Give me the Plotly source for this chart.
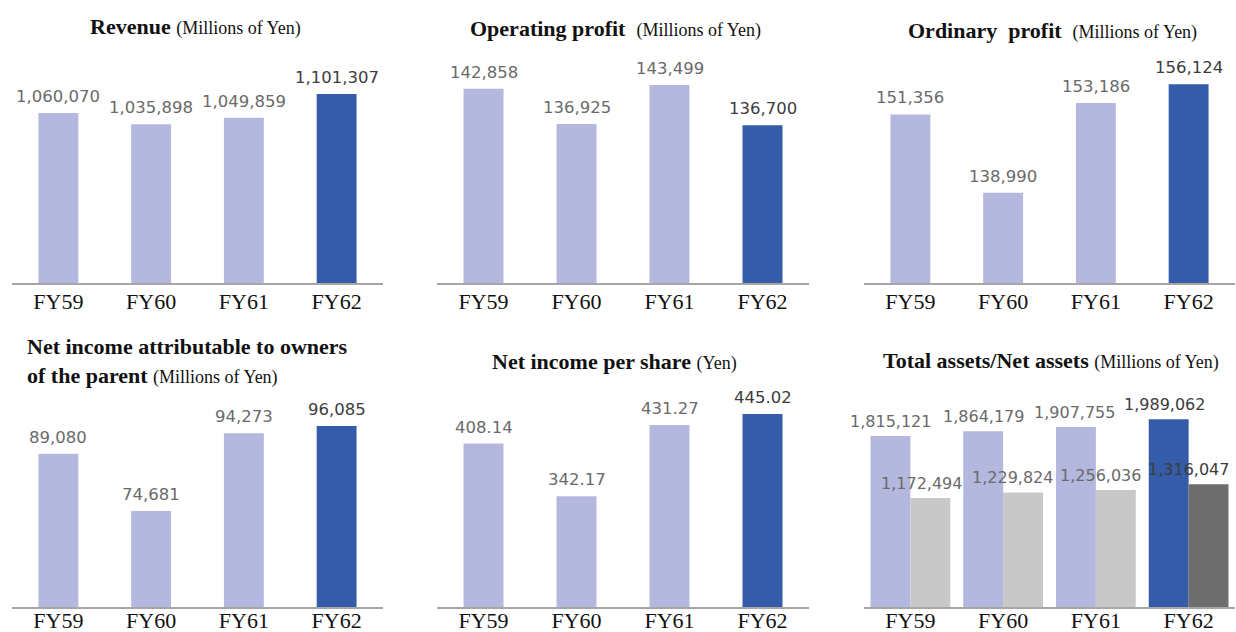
import plotly.graph_objects as go

W, H = 1236, 632

categories = ["FY59", "FY60", "FY61", "FY62"]

revenue = [1060070, 1035898, 1049859, 1101307]
operating_profit = [142858, 136925, 143499, 136700]
ordinary_profit = [151356, 138990, 153186, 156124]
net_income = [89080, 74681, 94273, 96085]
eps = [408.14, 342.17, 431.27, 445.02]
total_assets = [1815121, 1864179, 1907755, 1989062]
net_assets = [1172494, 1229824, 1256036, 1316047]

revenue_labels = ["1,060,070", "1,035,898", "1,049,859", "1,101,307"]
operating_labels = ["142,858", "136,925", "143,499", "136,700"]
ordinary_labels = ["151,356", "138,990", "153,186", "156,124"]
net_income_labels = ["89,080", "74,681", "94,273", "96,085"]
eps_labels = ["408.14", "342.17", "431.27", "445.02"]
total_labels = ["1,815,121", "1,864,179", "1,907,755", "1,989,062"]
net_assets_labels = ["1,172,494", "1,229,824", "1,256,036", "1,316,047"]

LIGHT = "#b4b8de"
DARK = "#345ca8"
GRAY_L = "#c8c8c8"
GRAY_D = "#6e6e6e"
LBL_L = "#6a6a6a"
LBL_D = "#3c3c3c"
SERIF = "Liberation Serif, Times New Roman, serif"
SANS = "DejaVu Sans, Verdana, sans-serif"

def px_x(a, b):
    return [a / W, b / W]

def px_y(top, bottom):
    return [1 - bottom / H, 1 - top / H]

# panel layout: (x px range, y px range, y value range)
panels = [
    dict(x=(12, 383), y=(60, 283), rng=[691270, 1175000], stand=-2),
    dict(x=(437, 809), y=(60, 283), rng=[110126, 147712], stand=-2),
    dict(x=(864, 1235), y=(60, 283), rng=[124714, 159966], stand=-2),
    dict(x=(12, 383), y=(390, 607), rng=[50505, 105151], stand=-7),
    dict(x=(437, 809), y=(390, 607), rng=[204.1, 474.9], stand=-7),
    dict(x=(864, 1235), y=(390, 607), rng=[42733, 2291900], stand=-7),
]

fig = go.Figure()
single = [
    (revenue, revenue_labels),
    (operating_profit, operating_labels),
    (ordinary_profit, ordinary_labels),
    (net_income, net_income_labels),
    (eps, eps_labels),
]
bar_colors = [LIGHT, LIGHT, LIGHT, DARK]
label_colors = [LBL_L, LBL_L, LBL_L, LBL_D]
annotations = []

for i, p in enumerate(panels):
    n = "" if i == 0 else str(i + 1)
    fig.update_layout(**{
        "xaxis" + n: dict(domain=px_x(*p["x"]), anchor="y" + n, type="category",
                          range=[-0.5, 3.5], automargin=False,
                          ticklabelstandoff=p["stand"],
                          showline=True, linecolor="#a6a6a6", linewidth=2,
                          showgrid=False, ticks="", zeroline=False,
                          tickfont=dict(family=SERIF, size=22, color="#111111"),
                          fixedrange=True),
        "yaxis" + n: dict(domain=px_y(*p["y"]), anchor="x" + n, range=p["rng"],
                          visible=False, showgrid=False, zeroline=False,
                          automargin=False, fixedrange=True),
    })

for i, (vals, labs) in enumerate(single):
    n = "" if i == 0 else str(i + 1)
    fig.add_trace(go.Bar(x=categories, y=vals, width=0.43,
                         marker=dict(color=bar_colors, line=dict(width=0)),
                         xaxis="x" + n, yaxis="y" + n, showlegend=False,
                         hoverinfo="skip"))
    for c, v, t, col in zip(categories, vals, labs, label_colors):
        annotations.append(dict(x=c, y=v, xref="x" + n, yref="y" + n, text=t,
                                showarrow=False, yanchor="bottom", yshift=5,
                                font=dict(family=SANS, size=16.5, color=col)))

# panel 6: grouped bars
fig.add_trace(go.Bar(x=categories, y=total_assets, width=0.43, offset=-0.43,
                     marker=dict(color=[LIGHT, LIGHT, LIGHT, DARK], line=dict(width=0)),
                     xaxis="x6", yaxis="y6", showlegend=False, hoverinfo="skip"))
fig.add_trace(go.Bar(x=categories, y=net_assets, width=0.43, offset=0.0,
                     marker=dict(color=[GRAY_L, GRAY_L, GRAY_L, GRAY_D], line=dict(width=0)),
                     xaxis="x6", yaxis="y6", showlegend=False, hoverinfo="skip"))
total_shift = [-20, -20, -21, -24]
net_shift = [11, 9, 5, 0]
for k, (c, v, t) in enumerate(zip(categories, total_assets, total_labels)):
    annotations.append(dict(x=c, y=v, xref="x6", yref="y6", text=t, showarrow=False,
                            yanchor="bottom", yshift=3, xshift=total_shift[k],
                            font=dict(family=SANS, size=16, color=label_colors[k])))
for k, (c, v, t) in enumerate(zip(categories, net_assets, net_assets_labels)):
    annotations.append(dict(x=c, y=v, xref="x6", yref="y6", text=t, showarrow=False,
                            yanchor="bottom", yshift=3, xshift=net_shift[k],
                            font=dict(family=SANS, size=16, color=label_colors[k])))

SUB = "<span style='font-size:18px;font-weight:normal'>%s</span>"
titles = [
    ("<b>Revenue</b> " + SUB % "(Millions of Yen)", 195, 26, "center"),
    ("<b>Operating profit</b>  " + SUB % "(Millions of Yen)", 615, 28, "center"),
    ("<b>Ordinary  profit</b>  " + SUB % "(Millions of Yen)", 1052, 30, "center"),
    ("<b>Net income attributable to owners</b><br><b>of the parent</b> " + SUB % "(Millions of Yen)", 25, 361, "left"),
    ("<b>Net income per share</b> " + SUB % "(Yen)", 614, 361, "center"),
    ("<b>Total assets/Net assets</b> " + SUB % "(Millions of Yen)", 1051, 360, "center"),
]
for text, x, y, al in titles:
    annotations.append(dict(x=x / W, y=1 - y / H, xref="paper", yref="paper",
                            text=text, showarrow=False, align="left",
                            xanchor="left" if al == "left" else "center",
                            yanchor="middle",
                            font=dict(family=SERIF, size=22, color="#111111")))

fig.update_layout(width=W, height=H,
                  margin=dict(l=0, r=0, t=0, b=0, pad=0, autoexpand=False),
                  paper_bgcolor="white", plot_bgcolor="white",
                  barmode="overlay", annotations=annotations)

fig.write_html("out.html", config={"displayModeBar": False},
               post_script="document.body.style.margin='0';document.body.style.overflow='hidden';")
